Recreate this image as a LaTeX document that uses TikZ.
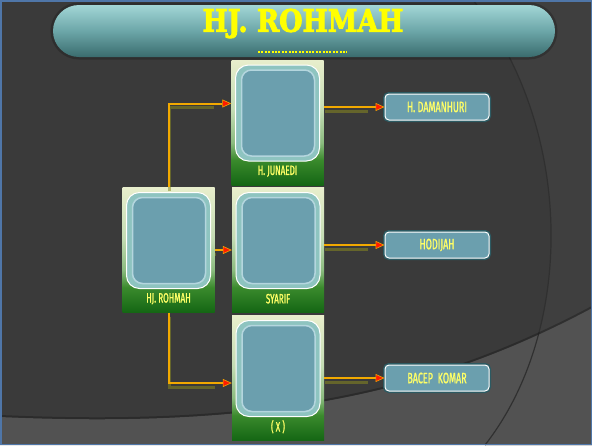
\documentclass[tikz,border=0pt]{standalone}
\usepackage{fontspec}
\usepackage{graphicx}
\usetikzlibrary{arrows.meta, positioning, calc}

\newfontfamily\titlefont[FakeBold=3]{DejaVu Serif}
\newfontfamily\namefont[FakeStretch=0.6, FakeBold=1.2]{Fira Sans}

\definecolor{bgdark}{HTML}{3A3A3A}
\definecolor{bgright}{HTML}{3F3F3F}
\definecolor{bglow}{HTML}{525252}
\definecolor{arcline}{HTML}{303030}
\definecolor{framecol}{HTML}{4F76A8}
\definecolor{bannertop}{HTML}{A2D6D6}
\definecolor{bannermid}{HTML}{6CA6A8}
\definecolor{bannerbot}{HTML}{3A6C6E}
\definecolor{cardtop}{HTML}{E8EECC}
\definecolor{cardlight}{HTML}{C4DCB4}
\definecolor{cardmid}{HTML}{8CBC80}
\definecolor{cardgreen}{HTML}{3A8A2C}
\definecolor{cardbot}{HTML}{146614}
\definecolor{photo}{HTML}{6B9FAE}
\definecolor{photoedge}{HTML}{B4D6DE}
\definecolor{photoglow}{HTML}{8EC4C0}
\definecolor{kidglow}{HTML}{2C5A62}
\definecolor{nameyellow}{HTML}{FFFF66}
\definecolor{titleyellow}{HTML}{FFFF00}
\definecolor{linecol}{HTML}{F2A900}
\definecolor{lineshadow}{HTML}{8A8A20}
\definecolor{tipred}{HTML}{FF1A00}

\pgfdeclareverticalshading{cardshade}{100bp}{color(0bp)=(cardbot); color(25bp)=(cardbot); color(35bp)=(cardgreen); color(42bp)=(cardmid); color(55bp)=(cardlight); color(75bp)=(cardtop); color(100bp)=(cardtop)}

\tikzset{
  banner/.style={rectangle, rounded corners=26pt, minimum width=502pt, minimum height=52pt,
    top color=bannertop, bottom color=bannerbot, middle color=bannermid,
    preaction={draw=black, opacity=0.2, line width=5pt}},
  titletext/.style={font=\titlefont, text=titleyellow, inner sep=0pt},
  card/.style={rectangle, minimum width=92pt, minimum height=125pt, inner sep=0pt, shading=cardshade,
    path picture={
      \draw[white, line width=1pt, rounded corners=13pt, fill=photoglow]
        ([shift={(4pt,-5pt)}]path picture bounding box.north west) rectangle ([shift={(-4pt,24pt)}]path picture bounding box.south east);
      \draw[photoedge, line width=1.5pt, rounded corners=10pt, fill=photo]
        ([shift={(10pt,-10pt)}]path picture bounding box.north west) rectangle ([shift={(-9pt,29pt)}]path picture bounding box.south east);
    }},
  cardname/.style={font=\namefont\fontsize{13.5}{13.5}\selectfont, text=nameyellow, inner sep=0pt},
  kidbox/.style={rectangle, rounded corners=4pt, draw=white, line width=1pt, fill=photo,
    minimum width=104pt, minimum height=26pt, inner sep=0pt,
    font=\namefont\fontsize{15}{15}\selectfont, text=nameyellow,
    preaction={draw=kidglow, line width=4pt}},
  conn/.style={draw=linecol, line width=2pt,
    -{Triangle[length=9pt,width=8pt,fill=tipred,line width=0.6pt]},
    preaction={draw=lineshadow, opacity=0.55, line width=3pt, -, shorten >=18pt,
      transform canvas={shift={(1pt,-4pt)}}}}
}

\begin{document}
\begin{tikzpicture}[x=1pt, y=-1pt]
\useasboundingbox (0,0) rectangle (592,445);

% background
\fill[bgdark] (0,0) rectangle (592,445);
\fill[bgright] (473,0) .. controls (575,130) and (575,330) .. (485,445) -- (592,445) -- (592,0) -- cycle;
\fill[bglow] (0,417) .. controls (250,428) and (420,400) .. (592,308) -- (592,445) -- (0,445) -- cycle;
\draw[arcline, line width=1.2pt] (473,0) .. controls (575,130) and (575,330) .. (485,445);
\draw[black, opacity=0.25, line width=2pt] (0,416) .. controls (250,427) and (420,399) .. (592,307);
\draw[framecol, line width=1.5pt] (0.75,0.75) rectangle (591.25,444.25);

% title
\node[banner] (banner) at (304,31) {};
\node[titletext] (title) at (303,23.5) {\resizebox{201pt}{23pt}{\bfseries HJ. ROHMAH}};
\draw[titleyellow, line width=2pt, dash pattern=on 2pt off 1.4pt] (258,52) -- (347,52);

% photo cards
\node[card] (rohmah) at (168.5,250) {};
\node[card] (junaedi) at (277.5,122.5) {};
\node[card] (syarif) at (278,250) {};
\node[card] (anak) at (278,378) {};

\foreach \n/\t in {rohmah/HJ. ROHMAH, junaedi/H. JUNAEDI, syarif/SYARIF, anak/( X )}
  \node[cardname] (\n-name) at ([yshift=14pt]\n.south) {\t};

% grandchildren
\node[kidbox] (damanhuri) at (437,107) {H. DAMANHURI};
\node[kidbox] (hodijah) at (437,245) {HODIJAH};
\node[kidbox] (bacep) at (437,378) {BACEP\ \ KOMAR};

% connectors
\draw[conn] (rohmah.north) |- ([yshift=19pt]junaedi.west);
\draw[conn] (rohmah.east) -- (syarif.west);
\draw[conn] (rohmah.south) |- ([yshift=-5pt]anak.west);
\draw[conn] (damanhuri.west -| junaedi.east) -- (damanhuri.west);
\draw[conn] (hodijah.west -| syarif.east) -- (hodijah.west);
\draw[conn] (bacep.west -| anak.east) -- (bacep.west);
\end{tikzpicture}
\end{document}
